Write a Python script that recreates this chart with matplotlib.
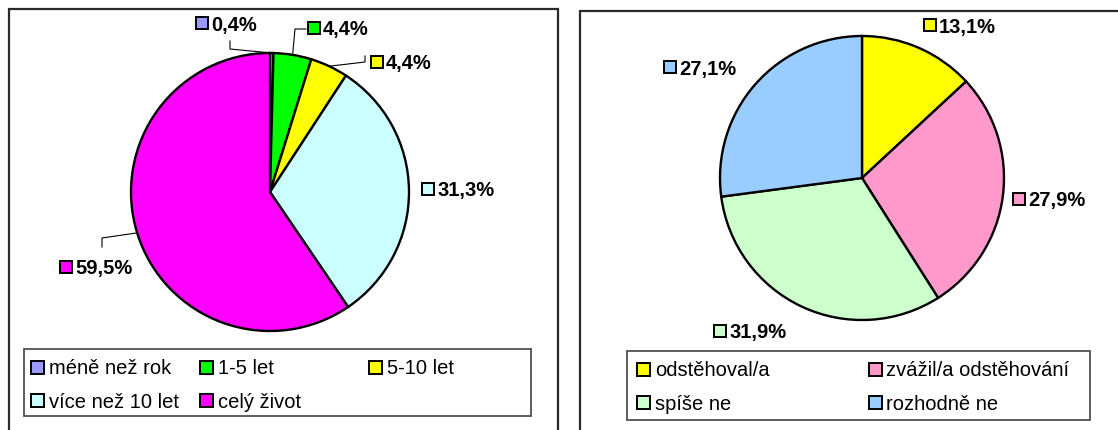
import matplotlib
matplotlib.use("Agg")
import matplotlib.pyplot as plt
from matplotlib.patches import Rectangle
import numpy as np

plt.rcParams['font.family'] = ['Liberation Sans', 'DejaVu Sans']

W, H = 1118, 431

# levý graf - jak dlouho respondent bydlí v obci
left_categories = ["méně než rok", "1-5 let", "5-10 let", "více než 10 let", "celý život"]
left_values = [0.4, 4.4, 4.4, 31.3, 59.5]
left_colors = ["#9999FF", "#00FF00", "#FFFF00", "#CCFFFF", "#FF00FF"]

# pravý graf - stěhování
right_categories = ["odstěhoval/a", "zvážil/a odstěhování", "spíše ne", "rozhodně ne"]
right_values = [13.1, 27.9, 31.9, 27.1]
right_colors = ["#FFFF00", "#FF99CC", "#CCFFCC", "#99CCFF"]

# rozvržení v pixelech (střed, poloměr, popisky relativně ke středu)
left_layout = {
    "center": (270, 193), "radius": 139,
    "labels": [(-74, -169), (38, -164), (101, -130), (152, -3), (-210, 75)],
    "leaders": [[(-40, -143), (-40, -151)], [(25, -163), (36, -163)],
                [(95, -130), (95, -136)], None, [(-168, 46), (-168, 55)]],
    "frame": (8.5, 9.5, 558),
    "legend": (24, 350, 531, 417), "ncol": 3, "pad": 7,
}
right_layout = {
    "center": (862, 179), "radius": 142,
    "labels": [(62, -153), (151, 21), (-148, 153), (-198, -111)],
    "leaders": [None, None, None, None],
    "frame": (580, 11.5, 1125),
    "legend": (627, 352, 1090, 421), "ncol": 2, "pad": 10,
}

fig = plt.figure(figsize=(W / 100, H / 100), dpi=100)


def fmt(v):
    return f"{v:.1f}%".replace(".", ",")


def draw_panel(values, colors, categories, lay, ov):
    cx, cy = lay["center"]
    R = lay["radius"]
    ax = fig.add_axes([(cx - R) / W, 1 - (cy + R) / H, 2 * R / W, 2 * R / H])
    wedges, _ = ax.pie(values, colors=colors, startangle=90, counterclock=False,
                       wedgeprops=dict(edgecolor="black", linewidth=1.7), frame=True)
    for w in wedges:
        w.set_clip_on(False)
    ax.set_xlim(-1, 1)
    ax.set_ylim(-1, 1)
    ax.axis("off")

    # rámeček grafu (spodní okraj je oříznutý)
    x0, y0, x1 = lay["frame"]
    ov.plot([x0, x0, x1, x1], [H + 5, y0, y0, H + 5], color="#2a2a2a", lw=1.6,
            solid_joinstyle="miter")

    # popisky s procenty
    total = sum(values)
    start = 90.0
    for i, v in enumerate(values):
        mid = np.deg2rad(start - 360 * (sum(values[:i]) + v / 2) / total)
        ex, ey = cx + R * np.cos(mid), cy - R * np.sin(mid)
        lx, ly = lay["labels"][i]
        mx, my = cx + lx, cy + ly
        ov.add_patch(Rectangle((mx, my - 6), 12, 12, facecolor=colors[i],
                               edgecolor="black", lw=1.4))
        ov.text(mx + 15, my + 1, fmt(v), fontsize=14.5, fontweight="bold",
                ha="left", va="center")
        if lay["leaders"][i]:
            pts = [(ex, ey)] + [(cx + a, cy + b) for a, b in lay["leaders"][i]]
            ov.plot([p[0] for p in pts], [p[1] for p in pts], color="black", lw=0.8)

    # legenda
    bx0, by0, bx1, by1 = lay["legend"]
    ov.add_patch(Rectangle((bx0, by0), bx1 - bx0, by1 - by0, facecolor="white",
                           edgecolor="#505050", lw=1.3))
    ncol = lay["ncol"]
    cw = (bx1 - bx0) / ncol
    for i, cat in enumerate(categories):
        r, c = divmod(i, ncol)
        mx = bx0 + lay["pad"] + c * cw
        my = by0 + 18 + r * 34
        ov.add_patch(Rectangle((mx, my - 6.5), 13, 13, facecolor=colors[i],
                               edgecolor="black", lw=1.4))
        ov.text(mx + 18, my + 1, cat, fontsize=14.5, ha="left", va="center")


overlay = fig.add_axes([0, 0, 1, 1])
overlay.set_xlim(0, W)
overlay.set_ylim(H, 0)
overlay.axis("off")
overlay.patch.set_alpha(0)

draw_panel(left_values, left_colors, left_categories, left_layout, overlay)
draw_panel(right_values, right_colors, right_categories, right_layout, overlay)

# overlay musí být nahoře
overlay.set_zorder(5)

fig.savefig("out.png", dpi=100)
